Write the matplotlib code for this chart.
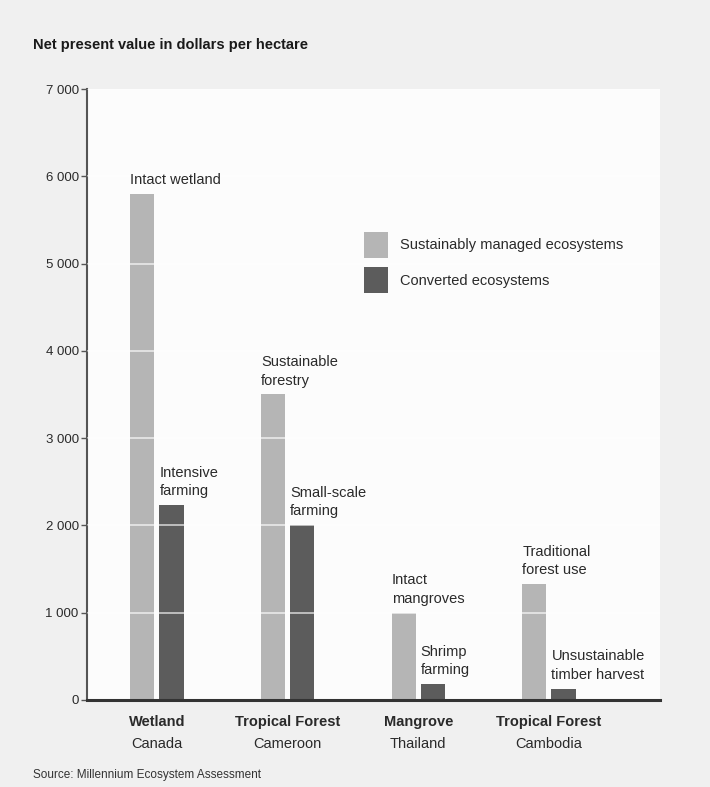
import matplotlib
matplotlib.use("Agg")
import matplotlib.pyplot as plt
from matplotlib.patches import Patch
import numpy as np

plt.rcParams['font.family'] = ['Liberation Sans', 'DejaVu Sans']

ecosystems = ["Wetland", "Tropical Forest", "Mangrove", "Tropical Forest"]
countries = ["Canada", "Cameroon", "Thailand", "Cambodia"]
sustainable = [5800, 3500, 1000, 1330]
converted = [2230, 2000, 180, 130]
sustainable_labels = ["Intact wetland", "Sustainable\nforestry", "Intact\nmangroves", "Traditional\nforest use"]
converted_labels = ["Intensive\nfarming", "Small-scale\nfarming", "Shrimp\nfarming", "Unsustainable\ntimber harvest"]
yticks = [0, 1000, 2000, 3000, 4000, 5000, 6000, 7000]
ytick_labels = ["0", "1 000", "2 000", "3 000", "4 000", "5 000", "6 000", "7 000"]

light = "#b5b5b5"
dark = "#5c5c5c"
txt = "#2a2a2a"

fig = plt.figure(figsize=(7.10, 7.87), dpi=100, facecolor="#f0f0f0")
ax = fig.add_axes([0.1225, 0.1106, 0.8071, 0.7763])
ax.set_facecolor("#fcfcfc")

x = np.arange(len(ecosystems))
w = 0.185
off = 0.1115
ax.bar(x - off, sustainable, width=w, color=light, zorder=2)
ax.bar(x + off, converted, width=w, color=dark, zorder=2)

ax.set_xlim(-0.535, 3.85)
ax.set_ylim(0, 7000)
ax.set_yticks(yticks)
ax.set_yticklabels(ytick_labels)
ax.set_xticks([])
ax.tick_params(axis='y', length=4, width=1, color="#555555", labelsize=9.5, labelcolor="#2a2a2a", pad=2)

ax.yaxis.grid(True, color="white", linewidth=1.2, alpha=0.7, zorder=3)
ax.set_axisbelow(False)
for s in ["top", "right"]:
    ax.spines[s].set_visible(False)
ax.spines["left"].set_color("#555555")
ax.spines["left"].set_linewidth(1.5)
ax.spines["bottom"].set_color("#333333")
ax.spines["bottom"].set_linewidth(2.2)
ax.spines["bottom"].set_zorder(5)

for i in range(len(x)):
    ax.annotate(sustainable_labels[i], (x[i] - off - w / 2, sustainable[i]),
                xytext=(0, 5), textcoords="offset points", ha="left", va="bottom",
                fontsize=10.5, color=txt, linespacing=1.4, zorder=6)
    ax.annotate(converted_labels[i], (x[i] + off - w / 2, converted[i]),
                xytext=(0, 5), textcoords="offset points", ha="left", va="bottom",
                fontsize=10.5, color=txt, linespacing=1.4, zorder=6)
    ax.annotate(ecosystems[i], (x[i], 0), xytext=(0, -11), textcoords="offset points",
                ha="center", va="top", fontsize=10.5, fontweight="bold", color=txt,
                annotation_clip=False)
    ax.annotate(countries[i], (x[i], 0), xytext=(0, -27), textcoords="offset points",
                ha="center", va="top", fontsize=10.5, color=txt,
                annotation_clip=False)

handles = [Patch(facecolor=light, edgecolor="none"), Patch(facecolor=dark, edgecolor="none")]
ax.legend(handles, ["Sustainably managed ecosystems", "Converted ecosystems"],
          loc="upper left", bbox_to_anchor=(0.4935, 0.722), bbox_transform=fig.transFigure,
          frameon=False, fontsize=10.5, handlelength=1.7, handleheight=2.35,
          handletextpad=0.8, labelspacing=0.64, labelcolor=txt)

fig.text(33 / 710, 1 - 45 / 787, "Net present value in dollars per hectare",
         fontsize=10.5, fontweight="bold", color="#1a1a1a", ha="left", va="center")
fig.text(33 / 710, 1 - 775 / 787, "Source: Millennium Ecosystem Assessment",
         fontsize=8.5, color="#333333", ha="left", va="center")

fig.savefig("out.png", dpi=100, facecolor=fig.get_facecolor())
